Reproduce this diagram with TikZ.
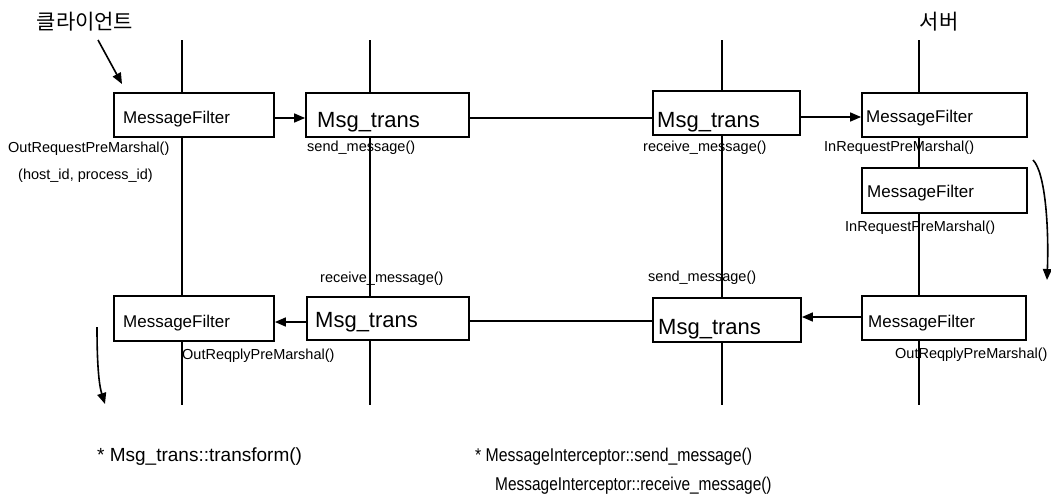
\documentclass[tikz,border=0pt]{standalone}
\usepackage{fontspec}
\setmainfont{Liberation Sans}
\newfontfamily\kr{Noto Sans CJK KR}
\usetikzlibrary{arrows.meta}
\begin{document}
\begin{tikzpicture}[x=1pt,y=-1pt,
  box/.style={draw, fill=white, line width=1.8pt, inner sep=0pt},
  boxtext/.style={anchor=base west, inner sep=0pt, font=\fontsize{17}{20}\selectfont},
  transtext/.style={anchor=base west, inner sep=0pt, font=\fontsize{22}{26}\selectfont},
  lbl/.style={anchor=base west, inner sep=0pt, font=\fontsize{14.5}{17}\selectfont},
  lifeline/.style={line width=1.6pt},
  arr/.style={line width=1.6pt, -{Triangle[length=11pt,width=9pt]}},
  link/.style={line width=1.6pt},
  korean/.style={inner sep=0pt, font=\kr\fontsize{21}{24}\selectfont}
]
\useasboundingbox (0,0) rectangle (1051,493);

% lifelines
\coordinate (l1t) at (182,40); \coordinate (l1b) at (182,405);
\coordinate (l2t) at (370,40); \coordinate (l2b) at (370,405);
\coordinate (l3t) at (722,40); \coordinate (l3b) at (722,405);
\coordinate (l4t) at (919,40); \coordinate (l4b) at (919,405);
\draw[lifeline] (l1t) -- (l1b);
\draw[lifeline] (l2t) -- (l2b);
\draw[lifeline] (l3t) -- (l3b);
\draw[lifeline] (l4t) -- (l4b);

% titles
\node[korean] (client) at (85,22) {클라이언트};
\node[korean] (server) at (939,22) {서버};
\coordinate (ca1) at (98,40); \coordinate (ca2) at (122,84);
\draw[arr] (ca1) -- (ca2);

% top row boxes
\node[box, minimum width=160pt, minimum height=44pt] (mf1) at (194,115) {};
\node[boxtext] (mf1t) at (123,123) {MessageFilter};
\node[box, minimum width=163pt, minimum height=44pt] (mt1) at (387.5,115) {};
\node[transtext] (mt1t) at (317,127) {Msg\_trans};
\node[box, minimum width=147pt, minimum height=44pt] (mt2) at (726.5,113) {};
\node[transtext] (mt2t) at (657,127) {Msg\_trans};
\node[box, minimum width=165pt, minimum height=44pt] (mfs1) at (944.5,115) {};
\node[boxtext] (mfs1t) at (866,122) {MessageFilter};
\node[box, minimum width=165pt, minimum height=45pt] (mfs2) at (944.5,190.5) {};
\node[boxtext] (mfs2t) at (867,197) {MessageFilter};

% bottom row boxes
\node[box, minimum width=160pt, minimum height=45pt] (mf4) at (194,318.5) {};
\node[boxtext] (mf4t) at (123,327) {MessageFilter};
\node[box, minimum width=162pt, minimum height=43pt] (mt3) at (388,318.5) {};
\node[transtext] (mt3t) at (315,327) {Msg\_trans};
\node[box, minimum width=148pt, minimum height=44pt] (mt4) at (727,320) {};
\node[transtext] (mt4t) at (658,334) {Msg\_trans};
\node[box, minimum width=164pt, minimum height=44pt] (mfs3) at (944,318) {};
\node[boxtext] (mfs3t) at (868,327) {MessageFilter};

% connectors top
\draw[arr] ([yshift=-3pt]mf1.east) -- ([yshift=-3pt]mt1.west);
\draw[link] ([yshift=-3pt]mt1.east) -- ([yshift=-5pt]mt2.west);
\draw[arr] ([yshift=-4pt]mt2.east) -- ([yshift=-2pt]mfs1.west);

% connectors bottom
\draw[arr] ([yshift=1pt]mfs3.west) -- ([yshift=3pt]mt4.east);
\draw[link] ([yshift=-2.5pt]mt3.east) -- ([yshift=-1pt]mt4.west);
\draw[arr] ([yshift=-3.5pt]mt3.west) -- ([yshift=-3.5pt]mf4.east);

% curved flow arrows
\coordinate (rc1) at (1033,160); \coordinate (rc2) at (1047,280);
\draw[arr] (rc1) .. controls (1045,172) and (1049,225) .. (rc2);
\coordinate (lc1) at (97,327); \coordinate (lc2) at (105,404);
\draw[arr] (lc1) .. controls (97,365) and (99,385) .. (lc2);

% labels
\node[lbl] (la1) at (8,152) {OutRequestPreMarshal()};
\node[lbl] (la2) at (18,179) {(host\_id, process\_id)};
\node[lbl] (la3) at (307,151) {send\_message()};
\node[lbl] (la4) at (643,151) {receive\_message()};
\node[lbl] (la5) at (824,151) {InRequestPreMarshal()};
\node[lbl] (la6) at (845,231) {InRequestPreMarshal()};
\node[lbl] (la7) at (320,282) {receive\_message()};
\node[lbl] (la8) at (648,281) {send\_message()};
\node[lbl] (la9) at (182,359) {OutReqplyPreMarshal()};
\node[lbl] (la10) at (895,358) {OutReqplyPreMarshal()};

% footer notes
\node[anchor=base west, inner sep=0pt, font=\fontsize{19}{22}\selectfont] (n1) at (97,461) {* Msg\_trans::transform()};
\node[anchor=base west, inner sep=0pt, font=\fontsize{18.5}{22}\selectfont] (n2) at (475,461) {\scalebox{0.855}[1]{* MessageInterceptor::send\_message()}};
\node[anchor=base west, inner sep=0pt, font=\fontsize{18.5}{22}\selectfont] (n3) at (495,490) {\scalebox{0.835}[1]{MessageInterceptor::receive\_message()}};
\end{tikzpicture}
\end{document}
